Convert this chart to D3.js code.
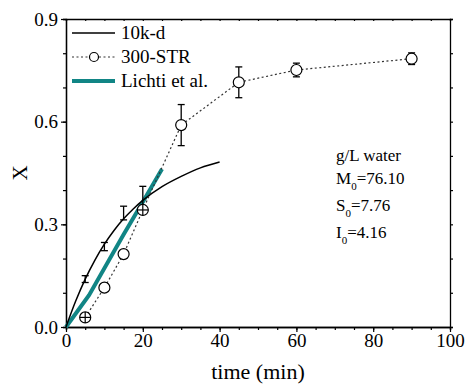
<!DOCTYPE html>
<html>
<head>
<meta charset="utf-8">
<script src="https://cdn.jsdelivr.net/npm/d3@7"></script>
<style>
  body { margin: 0; background: #fff; }
  svg text { font-family: "Liberation Serif", "Times New Roman", serif; fill: #000; }
</style>
</head>
<body>
<figure id="chart" style="margin:0"></figure>
<script>
// 10k-d: measured points (error bars only) and the fitted curve
const kdTime = [5, 10, 15, 20];
const kdX = [0.14, 0.235, 0.333, 0.379];
const kdErr = [0.01, 0.012, 0.02, 0.032];
const kdCurveTime = [0, 2.5, 5, 7.5, 10, 12.5, 15, 17.5, 20, 25, 30, 35, 40];
const kdCurveX = [0, 0.075, 0.14, 0.195, 0.242, 0.282, 0.316, 0.345, 0.37, 0.41, 0.44, 0.465, 0.482];

// 300-STR
const strTime = [5, 10, 15, 20, 30, 45, 60, 90];
const strX = [0.028, 0.115, 0.213, 0.342, 0.59, 0.715, 0.751, 0.784];
const strErr = [0.003, 0, 0, 0.004, 0.06, 0.045, 0.02, 0.017];

// Lichti et al.
const lichtiTime = [0, 6, 15, 20, 25];
const lichtiX = [0, 0.093, 0.27, 0.365, 0.462];

const xTicks = [0, 20, 40, 60, 80, 100];
const yTicks = [0.0, 0.3, 0.6, 0.9];
const legendNames = ['10k-d', '300-STR', 'Lichti et al.'];
const noteLines = [
  { main: 'g/L water', sub: '', rest: '' },
  { main: 'M', sub: '0', rest: '=76.10' },
  { main: 'S', sub: '0', rest: '=7.76' },
  { main: 'I', sub: '0', rest: '=4.16' }
];

const W = 472, H = 385;
const margin = { top: 19, right: 22, bottom: 58, left: 66 };
const width = W - margin.left - margin.right;
const height = H - margin.top - margin.bottom;
const teal = '#118585';

const svg = d3.select('figure#chart')
  .append('svg')
  .attr('width', W)
  .attr('height', H);

const g = svg.append('g')
  .attr('transform', 'translate(' + margin.left + ',' + margin.top + ')');

const x = d3.scaleLinear().domain([0, 100]).range([0, width]);
const y = d3.scaleLinear().domain([0, 0.9]).range([height, 0]);

// axes: majors labelled, minors plain
const xAxis = d3.axisBottom(x).tickValues(xTicks).tickSizeInner(5).tickSizeOuter(0).tickPadding(2)
  .tickFormat(d3.format('d'));
const xMinor = d3.axisBottom(x).tickValues(d3.range(0, 101, 5)).tickSize(3).tickFormat('');
const yAxis = d3.axisLeft(y).tickValues(yTicks).tickSizeInner(5).tickSizeOuter(0).tickPadding(3)
  .tickFormat(d3.format('.1f'));
const yMinor = d3.axisLeft(y).tickValues(d3.range(0, 0.91, 0.1)).tickSize(3).tickFormat('');

g.append('g').attr('transform', 'translate(0,' + height + ')').call(xMinor);
g.append('g').attr('transform', 'translate(0,' + height + ')').call(xAxis);
g.append('g').call(yMinor);
g.append('g').call(yAxis);
g.append('g').call(d3.axisTop(x).tickValues(d3.range(0, 101, 5)).tickSize(-2).tickFormat(''));
g.append('g').attr('transform', 'translate(' + width + ',0)')
  .call(d3.axisRight(y).tickValues(d3.range(0, 0.91, 0.1)).tickSize(3).tickFormat(''));

g.selectAll('.domain').attr('stroke', '#000').attr('stroke-width', 1.3);
g.selectAll('.tick line').attr('stroke', '#000').attr('stroke-width', 1.2);
g.selectAll('.tick text').style('font-size', '19px');

// axis titles
svg.append('text')
  .attr('x', margin.left + width / 2)
  .attr('y', 379)
  .attr('text-anchor', 'middle')
  .style('font-size', '22px')
  .text('time (min)');

svg.append('text')
  .attr('transform', 'translate(27,' + (margin.top + height / 2) + ') rotate(-90)')
  .attr('text-anchor', 'middle')
  .style('font-size', '21px')
  .text('X');

// lines
const line = d3.line().x(d => x(d[0])).y(d => y(d[1]));

g.append('path')
  .datum(d3.zip(lichtiTime, lichtiX))
  .attr('fill', 'none')
  .attr('stroke', teal)
  .attr('stroke-width', 4)
  .attr('d', line);

g.append('path')
  .datum(d3.zip(kdCurveTime, kdCurveX))
  .attr('fill', 'none')
  .attr('stroke', '#000')
  .attr('stroke-width', 1.5)
  .attr('d', line.curve(d3.curveMonotoneX));

line.curve(d3.curveLinear);

const strData = d3.zip(strTime, strX, strErr);
g.append('path')
  .datum(strData)
  .attr('fill', 'none')
  .attr('stroke', '#333')
  .attr('stroke-width', 1.2)
  .attr('stroke-dasharray', '2,2.5')
  .attr('d', line);

// error bars
function errorBars(data, cls) {
  const eb = g.append('g').attr('class', cls)
    .selectAll('g')
    .data(data.filter(d => d[2] > 0))
    .enter()
    .append('g')
    .attr('stroke', '#000')
    .attr('stroke-width', 1.3);
  eb.append('line')
    .attr('x1', d => x(d[0])).attr('x2', d => x(d[0]))
    .attr('y1', d => y(d[1] - d[2])).attr('y2', d => y(d[1] + d[2]));
  [-1, 1].forEach(s => {
    eb.append('line')
      .attr('x1', d => x(d[0]) - 3.5).attr('x2', d => x(d[0]) + 3.5)
      .attr('y1', d => y(d[1] + s * d[2])).attr('y2', d => y(d[1] + s * d[2]));
  });
}

errorBars(d3.zip(kdTime, kdX, kdErr), 'kd-err');
errorBars(strData, 'str-err');

const r = 5.5;
g.append('g')
  .selectAll('circle')
  .data(strData)
  .enter()
  .append('circle')
  .attr('cx', d => x(d[0]))
  .attr('cy', d => y(d[1]))
  .attr('r', r)
  .attr('fill', '#fff')
  .attr('stroke', '#000')
  .attr('stroke-width', 1.2);

// tiny error bars sit inside the open circle and show as a cross
const small = g.append('g').selectAll('g')
  .data(strData.filter(d => d[2] > 0 && y(d[1] - d[2]) - y(d[1]) < r))
  .enter()
  .append('g')
  .attr('stroke', '#000')
  .attr('stroke-width', 1.2);
small.append('line')
  .attr('x1', d => x(d[0])).attr('x2', d => x(d[0]))
  .attr('y1', d => y(d[1]) - r).attr('y2', d => y(d[1]) + r);
small.append('line')
  .attr('x1', d => x(d[0]) - r).attr('x2', d => x(d[0]) + r)
  .attr('y1', d => y(d[1])).attr('y2', d => y(d[1]));

// legend
const legend = svg.append('g').attr('transform', 'translate(72,33)');
const rowH = 24;
legend.append('line').attr('x1', 0).attr('x2', 43).attr('y1', 0).attr('y2', 0)
  .attr('stroke', '#000').attr('stroke-width', 1.3);
legend.append('line').attr('x1', 0).attr('x2', 43).attr('y1', rowH).attr('y2', rowH)
  .attr('stroke', '#333').attr('stroke-width', 1.2).attr('stroke-dasharray', '2,2.5');
legend.append('circle').attr('cx', 22).attr('cy', rowH).attr('r', 4.5)
  .attr('fill', '#fff').attr('stroke', '#000').attr('stroke-width', 1.2);
legend.append('line').attr('x1', 0).attr('x2', 43).attr('y1', rowH * 2).attr('y2', rowH * 2)
  .attr('stroke', teal).attr('stroke-width', 4);
legend.selectAll('text')
  .data(legendNames)
  .enter()
  .append('text')
  .attr('x', 49)
  .attr('y', (d, i) => i * rowH + 6)
  .style('font-size', '19px')
  .text(d => d);

// note
const noteY = [161, 184, 211, 238];
const note = svg.append('g');
noteLines.forEach((n, i) => {
  const t = note.append('text')
    .attr('x', 336)
    .attr('y', noteY[i])
    .style('font-size', '17px');
  t.append('tspan').text(n.main);
  if (n.sub) {
    t.append('tspan').attr('dy', 6).style('font-size', '11px').text(n.sub);
    t.append('tspan').attr('dy', -6).text(n.rest);
  }
});
</script>
</body>
</html>
